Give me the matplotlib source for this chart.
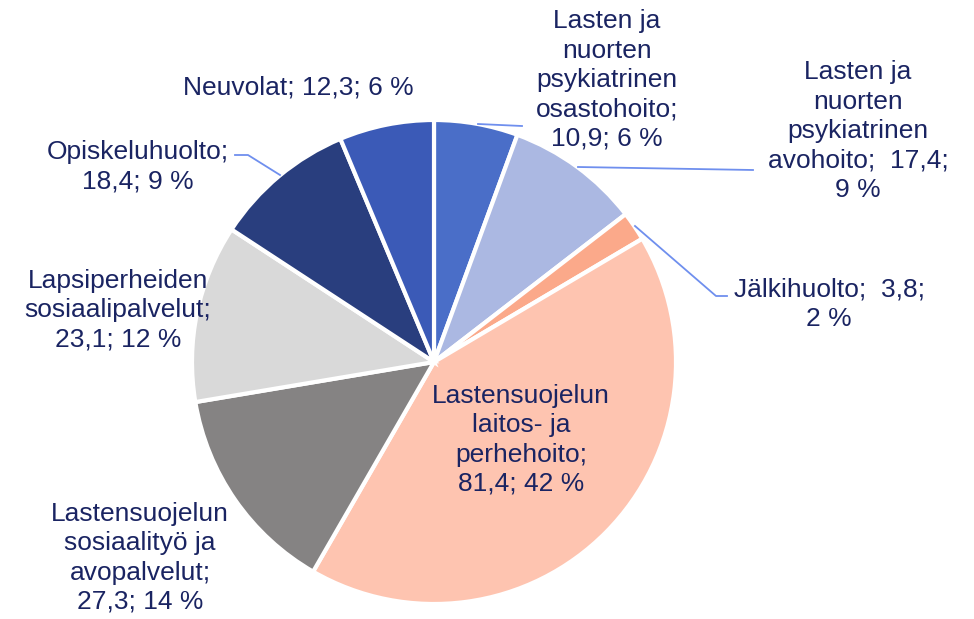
import matplotlib
matplotlib.use("Agg")
import matplotlib.pyplot as plt

names = [
    "Lasten ja\nnuorten\npsykiatrinen\nosastohoito;",
    "Lasten ja\nnuorten\npsykiatrinen\navohoito;",
    "Jälkihuolto;",
    "Lastensuojelun\nlaitos- ja\nperhehoito;",
    "Lastensuojelun\nsosiaalityö ja\navopalvelut;",
    "Lapsiperheiden\nsosiaalipalvelut;",
    "Opiskeluhuolto;",
    "Neuvolat;",
]
values = [10.9, 17.4, 3.8, 81.4, 27.3, 23.1, 18.4, 12.3]
colors = ["#4a6ec8", "#abb8e2", "#fba98a", "#fec4b0", "#858383",
          "#d9d9d9", "#293e7e", "#3b5ab7"]
# separator between name and value, and between value and percent
sep1 = ["\n", "  ", "  ", "\n", "\n", "\n", "\n", " "]
sep2 = [" ", "\n", "\n", " ", " ", " ", " ", " "]

W, H = 974, 619
fig = plt.figure(figsize=(W / 100, H / 100), dpi=100)
ax = fig.add_axes([0, 0, 1, 1])

cx, cy, r = 434, H - 362, 242
ax.pie(values, colors=colors, startangle=90, counterclock=False,
       center=(cx, cy), radius=r,
       wedgeprops=dict(edgecolor="white", linewidth=3), frame=True)
ax.set_xlim(0, W)
ax.set_ylim(0, H)
ax.axis("off")

total = sum(values)
txtcol = "#1a2462"
# label centres in pixel coords (from top)
pos = [(607, 80), (858, 131), (829, 304), (521, 440),
       (140, 558), (118, 310), (138, 167), (298, 88)]
for i, (n, v) in enumerate(zip(names, values)):
    pct = round(v / total * 100)
    s = f"{n}{sep1[i]}{str(v).replace('.', ',')};{sep2[i]}{pct} %"
    x, y = pos[i]
    ax.text(x, H - y, s, ha="center", va="center", fontsize=19,
            color=txtcol, family="Liberation Sans", linespacing=1.28)

lc = "#6f8fee"
leaders = [
    [(478, 124), (522, 126)],
    [(578, 167), (753, 170)],
    [(635, 226), (716, 296), (727, 296)],
    [(280, 175), (248, 155), (235, 155)],
]
for pts in leaders:
    xs = [p[0] for p in pts]
    ys = [H - p[1] for p in pts]
    ax.plot(xs, ys, color=lc, lw=1.3)

fig.savefig("out.png", dpi=100)
